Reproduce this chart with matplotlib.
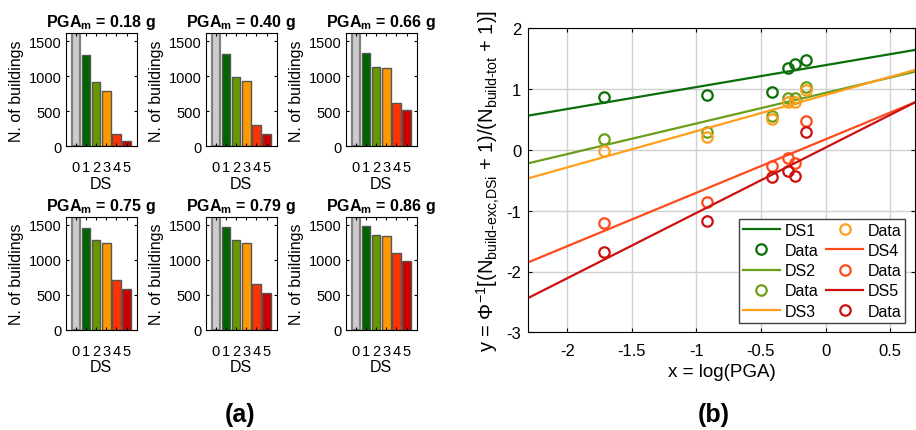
import numpy as np
import matplotlib.pyplot as plt

plt.rcParams['font.family'] = ['Liberation Sans', 'DejaVu Sans']
plt.rcParams['mathtext.fontset'] = 'custom'
plt.rcParams['mathtext.rm'] = 'Liberation Sans'
plt.rcParams['mathtext.it'] = 'Liberation Sans:italic'
plt.rcParams['mathtext.bf'] = 'Liberation Sans:bold'

# dati pannello (a): numero di edifici per DS
pga = [0.18, 0.40, 0.66, 0.75, 0.79, 0.86]
ds_labels = ['0', '1', '2', '3', '4', '5']
n_total = 1610
bars_018 = [1610, 1295, 914, 781, 176, 70]
bars_040 = [1610, 1314, 981, 929, 310, 181]
bars_066 = [1610, 1329, 1124, 1110, 624, 514]
bars_075 = [1610, 1457, 1287, 1245, 714, 582]
bars_079 = [1610, 1476, 1287, 1249, 662, 530]
bars_086 = [1610, 1490, 1358, 1344, 1093, 984]
bar_colors = ['#cccccc', '#006400', '#669900', '#ff9900', '#ff3300', '#cc0000']

# dati pannello (b): punti e rette di regressione
data_ds1 = [0.876, 0.909, 0.947, 1.353, 1.413, 1.485]
data_ds2 = [0.180, 0.289, 0.553, 0.849, 0.849, 1.041]
data_ds3 = [-0.023, 0.207, 0.503, 0.783, 0.783, 0.986]
data_ds4 = [-1.196, -0.851, -0.259, -0.138, -0.215, 0.470]
data_ds5 = [-1.684, -1.169, -0.451, -0.346, -0.434, 0.295]
intercetta = [1.394, 0.938, 0.903, 0.174, 0.038]
pendenza = [0.3605, 0.503, 0.595, 0.8785, 1.074]
line_colors = ['#0a6e0a', '#6a9f1a', '#ff9e1a', '#ff4a1a', '#cc1010']

W, H = 916, 431
fig = plt.figure(figsize=(W / 100, H / 100), dpi=100)


def ax_px(l, t, r, b):
    return fig.add_axes([l / W, 1 - b / H, (r - l) / W, (b - t) / H])


# pannello (a)
tutte = [bars_018, bars_040, bars_066, bars_075, bars_079, bars_086]
lefts = [65.7, 205.7, 345.7]
rows = [(34.3, 147.3), (218.3, 331.0)]
for k, vals in enumerate(tutte):
    l = lefts[k % 3]
    t, b = rows[k // 3]
    ax = ax_px(l, t, l + 71, b)
    xs = np.arange(len(vals))
    edges = ['#808080'] + ['#555555'] * 5
    lws = [1.6] + [1.0] * 5
    ax.bar(xs, vals, width=0.85, color=bar_colors, edgecolor=edges, linewidth=lws)
    ax.set_xlim(-1, 6)
    ax.set_ylim(0, n_total)
    ax.set_yticks([0, 500, 1000, 1500])
    ax.set_xticks(xs)
    ax.set_xticklabels(ds_labels)
    ax.tick_params(direction='in', top=True, right=True, labelsize=10.5, length=2.5)
    ax.tick_params(axis='x', pad=10)
    ax.tick_params(axis='y', pad=3)
    ax.set_xlabel('DS', fontsize=11.5, labelpad=1)
    ax.set_ylabel('N. of buildings', fontsize=11.5, labelpad=3)
    ax.set_title('PGA$_{\\mathbf{m}}$ = %.2f g' % pga[k], fontsize=11.5,
                 fontweight='bold', pad=5)

fig.text(240 / W, 1 - 415 / H, '(a)', fontsize=18, fontweight='bold',
         ha='center', va='center')

# pannello (b)
ax = ax_px(528.3, 29.3, 915.0, 333.3)
x = np.log(pga)
xr = np.array([np.log(0.1), np.log(2.0)])
punti = [data_ds1, data_ds2, data_ds3, data_ds4, data_ds5]
for i in range(5):
    ax.plot(xr, intercetta[i] + pendenza[i] * xr, color=line_colors[i], lw=1.6,
            label='DS%d' % (i + 1))
    ax.plot(x, punti[i], 'o', mfc='none', mec=line_colors[i], mew=1.6, ms=7.5,
            label='Data')
ax.set_xlim(xr[0], xr[1])
ax.set_ylim(-3, 2)
ax.set_xticks([-2, -1.5, -1, -0.5, 0, 0.5])
ax.set_xticklabels(['-2', '-1.5', '-1', '-0.5', '0', '0.5'])
ax.set_yticks([-3, -2, -1, 0, 1, 2])
ax.set_yticklabels(['-3', '-2', '-1', '0', '1', '2'])
ax.grid(True, color='#d0d0d0', lw=1)
ax.set_axisbelow(True)
ax.tick_params(direction='in', top=True, right=True, labelsize=12, length=3)
ax.tick_params(axis='x', pad=8)
ax.tick_params(axis='y', pad=5)
ax.set_xlabel('x = log(PGA)', fontsize=13.5, labelpad=3)
ax.set_ylabel(r'y = $\Phi^{-1}$[(N$_{\text{build-exc,DSi}}$ + 1)/(N$_{\text{build-tot}}$ + 1)]',
              fontsize=14.5, labelpad=3)
leg = ax.legend(loc='lower right', ncol=2, fontsize=11.5, fancybox=False,
                framealpha=1, edgecolor='#404040', handlelength=2.3,
                labelspacing=0.33, columnspacing=0.5, handletextpad=0.3,
                borderaxespad=0.6, borderpad=0.25)
leg.get_frame().set_linewidth(1.0)

fig.text(713.7 / W, 1 - 415 / H, '(b)', fontsize=18, fontweight='bold',
         ha='center', va='center')

fig.savefig('out.png', dpi=100)
